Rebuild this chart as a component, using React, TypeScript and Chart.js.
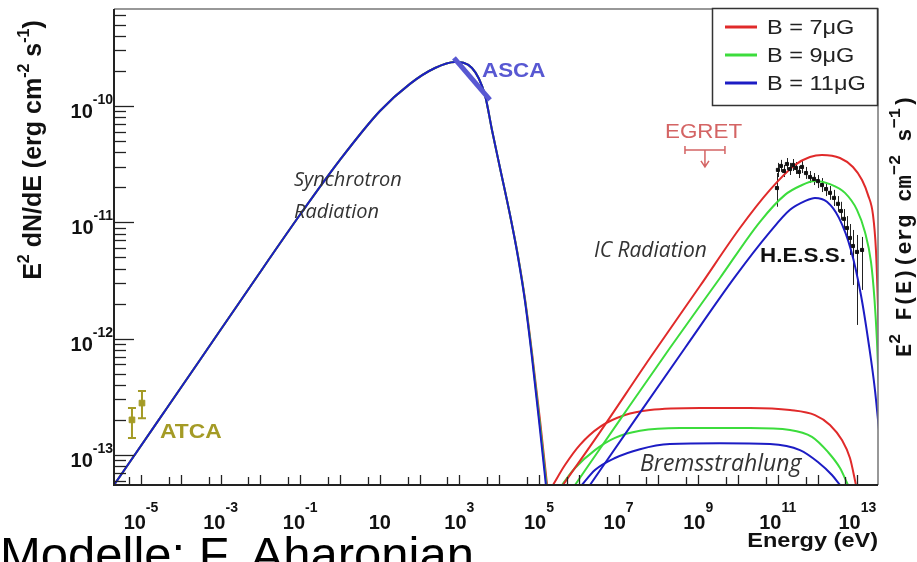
import React, { useEffect, useRef } from "react";
import { Chart, registerables } from "chart.js";

Chart.register(...registerables);

const W = 917;
const H = 562;

// axis range
const X_MIN = 2.1e-6;
const X_MAX = 3.3e13;
const Y_MIN = 5.51e-14;
const Y_MAX = 6.82e-10;

// tick labels (10^exp)
const xTickExps = [-5, -3, -1, 1, 3, 5, 7, 9, 11, 13];
const xTickSup = ["-5", "-3", "-1", "", "3", "5", "7", "9", "11", "13"];
const yTickExps = [-10, -11, -12, -13];
const yTickSup = ["-10", "-11", "-12", "-13"];

const legendLabels = ["B = 7\u03bcG", "B = 9\u03bcG", "B = 11\u03bcG"];

// synchrotron
const synchE = [2.1e-6, 3.0e-5, 3.03e-4, 5.48e-3, 0.0989, 1, 10.1, 57.4, 244, 774, 2075, 4395, 6590, 1.05e4, 1.87e4, 2.96e4, 4.45e4, 6.67e4, 1.06e5, 1.59e5];
const synchF7 = [5.51e-14, 2.07e-13, 6.55e-13, 2.78e-12, 1.16e-11, 3.44e-11, 9.06e-11, 1.55e-10, 2.12e-10, 2.39e-10, 2.12e-10, 1.24e-10, 6.22e-11, 2.93e-11, 1.16e-11, 5.2e-12, 2.2e-12, 7.6e-13, 2.0e-13, 5.6e-14];
const synchF9 = [5.51e-14, 2.07e-13, 6.55e-13, 2.78e-12, 1.16e-11, 3.44e-11, 9.06e-11, 1.55e-10, 2.12e-10, 2.39e-10, 2.12e-10, 1.24e-10, 6.22e-11, 2.93e-11, 1.16e-11, 5.13e-12, 2.15e-12, 7.23e-13, 1.81e-13, 4.99e-14];
const synchF11 = [5.51e-14, 2.07e-13, 6.55e-13, 2.78e-12, 1.16e-11, 3.44e-11, 9.06e-11, 1.55e-10, 2.12e-10, 2.39e-10, 2.12e-10, 1.24e-10, 6.22e-11, 2.93e-11, 1.16e-11, 5.05e-12, 2.1e-12, 6.9e-13, 1.65e-13, 4.5e-14];

// inverse Compton
const icE7 = [4.01e5, 3.41e6, 6.15e7, 1.11e9, 1.12e10, 6.37e10, 2.7e11, 6.44e11, 1.29e12, 3.66e12, 7.74e12, 1.31e13, 1.85e13, 2.47e13, 2.93e13, 3.2e13, 3.49e13];
const icF7 = [5.51e-14, 1.57e-13, 6.81e-13, 2.83e-12, 8.93e-12, 1.9e-11, 3.11e-11, 3.64e-11, 3.79e-11, 3.57e-11, 2.99e-11, 2.31e-11, 1.72e-11, 1.16e-11, 5.78e-12, 2.62e-12, 9.72e-13];
const icE9 = [8.04e5, 1.08e7, 1.95e8, 3.53e9, 3.57e10, 1.52e11, 3.61e11, 8.61e11, 2.05e12, 4.88e12, 9.77e12, 1.55e13, 2.2e13, 2.7e13, 3.1e13, 3.49e13];
const icF9 = [5.51e-14, 2.0e-13, 8.3e-13, 3.32e-12, 1.01e-11, 1.72e-11, 2.05e-11, 2.26e-11, 2.13e-11, 1.79e-11, 1.28e-11, 8.26e-12, 4.56e-12, 2.15e-12, 9.72e-13, 3.61e-13];
const icE11 = [1.91e6, 2.58e7, 4.66e8, 8.41e9, 6.37e10, 2.03e11, 4.82e11, 8.61e11, 1.72e12, 3.45e12, 6.9e12, 1.23e13, 1.95e13, 2.77e13, 3.49e13];
const icF11 = [5.51e-14, 2.0e-13, 8.3e-13, 3.39e-12, 8.26e-12, 1.28e-11, 1.52e-11, 1.62e-11, 1.5e-11, 1.09e-11, 5.78e-12, 2.37e-12, 8.81e-13, 3.61e-13, 1.64e-13];

// bremsstrahlung
const brE7 = [2.25e5, 4.5e5, 1.07e6, 3.41e6, 1.45e7, 6.15e7, 1.11e9, 2.0e10, 2.03e11, 8.61e11, 2.05e12, 4.1e12, 6.52e12, 9.23e12];
const brF7 = [5.51e-14, 8.18e-14, 1.22e-13, 1.74e-13, 2.2e-13, 2.43e-13, 2.53e-13, 2.53e-13, 2.43e-13, 2.2e-13, 1.81e-13, 1.34e-13, 9.4e-14, 5.51e-14];
const brE9 = [3.78e5, 8.04e5, 2.55e6, 8.13e6, 3.45e7, 3.49e8, 2.0e10, 2.03e11, 7.23e11, 1.82e12, 3.66e12, 5.81e12];
const brF9 = [5.51e-14, 7.71e-14, 1.1e-13, 1.4e-13, 1.61e-13, 1.7e-13, 1.7e-13, 1.64e-13, 1.43e-13, 1.06e-13, 7.71e-14, 5.51e-14];
const brE11 = [1.2e6, 2.55e6, 8.13e6, 3.45e7, 1.95e8, 3.53e9, 6.37e10, 3.61e11, 1.02e12, 2.3e12, 3.66e12];
const brF11 = [5.51e-14, 7.41e-14, 9.4e-14, 1.12e-13, 1.24e-13, 1.26e-13, 1.24e-13, 1.1e-13, 8.69e-14, 6.71e-14, 5.51e-14];

// H.E.S.S. data
const hessE = [9.55e10, 1.01e11, 1.2e11, 1.43e11, 1.7e11, 2.03e11, 2.41e11, 2.86e11, 3.41e11, 4.06e11, 5.12e11, 6.44e11, 8.13e11, 1.02e12, 1.29e12, 1.63e12, 2.05e12, 2.58e12, 3.26e12, 3.87e12, 4.6e12, 5.48e12, 6.52e12, 7.74e12, 9.77e12, 1.31e13];
const hessF = [1.97e-11, 2.82e-11, 3.05e-11, 2.76e-11, 3.17e-11, 2.87e-11, 3.11e-11, 2.93e-11, 2.71e-11, 2.99e-11, 2.65e-11, 2.45e-11, 2.36e-11, 2.26e-11, 2.09e-11, 1.93e-11, 1.79e-11, 1.62e-11, 1.44e-11, 1.25e-11, 1.07e-11, 8.93e-12, 7.33e-12, 6.25e-12, 5.56e-12, 5.78e-12];
const hessLo = [1.36e-11, 2.45e-11, 2.71e-11, 2.45e-11, 2.82e-11, 2.55e-11, 2.76e-11, 2.6e-11, 2.4e-11, 2.65e-11, 2.36e-11, 2.18e-11, 2.09e-11, 1.97e-11, 1.82e-11, 1.68e-11, 1.56e-11, 1.38e-11, 1.23e-11, 1.05e-11, 8.75e-12, 7.05e-12, 5.24e-12, 2.89e-12, 1.31e-12, 2.62e-12];
const hessHi = [2.65e-11, 3.24e-11, 3.44e-11, 3.11e-11, 3.57e-11, 3.24e-11, 3.5e-11, 3.3e-11, 3.05e-11, 3.36e-11, 2.99e-11, 2.76e-11, 2.65e-11, 2.55e-11, 2.4e-11, 2.22e-11, 2.05e-11, 1.9e-11, 1.68e-11, 1.5e-11, 1.3e-11, 1.13e-11, 9.66e-12, 8.59e-12, 7.78e-12, 7.48e-12];

// ATCA
const atcaE = [5.94e-6, 1.06e-5];
const atcaF = [2.0e-13, 2.79e-13];
const atcaLo = [1.4e-13, 2.07e-13];
const atcaHi = [2.53e-13, 3.54e-13];

// ASCA bow
const ascaE = [731, 5875];
const ascaF = [2.59e-10, 1.13e-10];

// EGRET upper limit
const egretE = [4.66e8, 1.48e9, 4.71e9];
const egretF = 4.19e-11;
const egretTip = 2.99e-11;

const RED = "#e02a2a";
const GREEN = "#3cdc3c";
const BLUE = "#1c1cc4";
const ASCA_C = "#5858d2";
const ATCA_C = "#a49b26";
const EGRET_C = "#d46464";

const SANS = '"Liberation Sans", Arial, sans-serif';
const ITAL = '"Open Sans", sans-serif';

type Part = { t: string; sup?: boolean };

function rich(
  ctx: CanvasRenderingContext2D,
  parts: Part[],
  x: number,
  y: number,
  o: { size: number; supSize?: number; rise?: number; weight?: string; family?: string; align?: string; sx?: number; rot?: number; color?: string; style?: string; baseline?: CanvasTextBaseline }
) {
  const size = o.size;
  const supSize = o.supSize ?? size * 0.7;
  const rise = o.rise ?? size * 0.55;
  const fam = o.family ?? SANS;
  const wt = o.weight ?? "normal";
  const st = o.style ?? "normal";
  const fb = `${st} ${wt} ${size}px ${fam}`;
  const fs = `${st} ${wt} ${supSize}px ${fam}`;
  ctx.save();
  ctx.fillStyle = o.color ?? "#000";
  ctx.textAlign = "left";
  ctx.textBaseline = o.baseline ?? "alphabetic";
  const ws: number[] = [];
  let total = 0;
  for (const p of parts) {
    ctx.font = p.sup ? fs : fb;
    const w = ctx.measureText(p.t).width;
    ws.push(w);
    total += w;
  }
  ctx.translate(x, y);
  if (o.rot) ctx.rotate(o.rot);
  ctx.scale(o.sx ?? 1, 1);
  let cx = o.align === "center" ? -total / 2 : o.align === "right" ? -total : 0;
  parts.forEach((p, i) => {
    ctx.font = p.sup ? fs : fb;
    ctx.fillText(p.t, cx, p.sup ? -rise : 0);
    cx += ws[i];
  });
  ctx.restore();
}

function pts(xs: number[], ys: number[]) {
  return xs.map((x, i) => ({ x, y: ys[i] }));
}

const decor = {
  id: "decor",
  beforeDatasetsDraw(chart: any) {
    const ctx: CanvasRenderingContext2D = chart.ctx;
    const xs = chart.scales.x;
    const ys = chart.scales.y;
    ctx.save();
    // HESS error bars
    ctx.strokeStyle = "#222";
    ctx.lineWidth = 1;
    hessE.forEach((e, i) => {
      const px = Math.round(xs.getPixelForValue(e)) + 0.5;
      ctx.beginPath();
      ctx.moveTo(px, ys.getPixelForValue(hessLo[i]));
      ctx.lineTo(px, ys.getPixelForValue(hessHi[i]));
      ctx.stroke();
    });
    // ATCA error bars
    ctx.strokeStyle = ATCA_C;
    ctx.lineWidth = 2;
    atcaE.forEach((e, i) => {
      const px = xs.getPixelForValue(e);
      const lo = ys.getPixelForValue(atcaLo[i]);
      const hi = ys.getPixelForValue(atcaHi[i]);
      ctx.beginPath();
      ctx.moveTo(px, lo);
      ctx.lineTo(px, hi);
      ctx.moveTo(px - 4, lo);
      ctx.lineTo(px + 4, lo);
      ctx.moveTo(px - 4, hi);
      ctx.lineTo(px + 4, hi);
      ctx.stroke();
    });
    // EGRET upper limit
    ctx.strokeStyle = EGRET_C;
    ctx.fillStyle = EGRET_C;
    ctx.lineWidth = 1.5;
    const ex0 = xs.getPixelForValue(egretE[0]);
    const ex1 = xs.getPixelForValue(egretE[1]);
    const ex2 = xs.getPixelForValue(egretE[2]);
    const ey = ys.getPixelForValue(egretF);
    const et = ys.getPixelForValue(egretTip);
    ctx.beginPath();
    ctx.moveTo(ex0, ey);
    ctx.lineTo(ex2, ey);
    ctx.moveTo(ex0, ey - 4);
    ctx.lineTo(ex0, ey + 4);
    ctx.moveTo(ex2, ey - 4);
    ctx.lineTo(ex2, ey + 4);
    ctx.moveTo(ex1, ey);
    ctx.lineTo(ex1, et);
    ctx.moveTo(ex1 - 4, et - 6);
    ctx.lineTo(ex1, et);
    ctx.lineTo(ex1 + 4, et - 6);
    ctx.stroke();
    ctx.restore();
  },
  afterDraw(chart: any) {
    const ctx: CanvasRenderingContext2D = chart.ctx;
    const xs = chart.scales.x;
    const ys = chart.scales.y;
    const a = chart.chartArea;
    ctx.save();
    // frame
    ctx.lineWidth = 1.5;
    ctx.strokeStyle = "#777";
    ctx.beginPath();
    ctx.moveTo(a.left, a.top);
    ctx.lineTo(a.right, a.top);
    ctx.lineTo(a.right, a.bottom);
    ctx.stroke();
    ctx.strokeStyle = "#222";
    ctx.lineWidth = 2;
    ctx.beginPath();
    ctx.moveTo(a.left, a.top);
    ctx.lineTo(a.left, a.bottom);
    ctx.lineTo(a.right, a.bottom);
    ctx.stroke();

    // x ticks (inside)
    ctx.lineWidth = 1.3;
    ctx.strokeStyle = "#222";
    for (let k = -6; k <= 13; k++) {
      for (const m of [1, 5]) {
        const v = m * Math.pow(10, k);
        if (v < X_MIN || v > X_MAX) continue;
        const px = Math.round(xs.getPixelForValue(v)) + 0.5;
        const len = m === 1 ? 10 : 8;
        ctx.beginPath();
        ctx.moveTo(px, a.bottom);
        ctx.lineTo(px, a.bottom - len);
        ctx.stroke();
      }
    }
    // y ticks (inside)
    for (let k = -14; k <= -10; k++) {
      for (let m = 1; m <= 9; m++) {
        const v = m * Math.pow(10, k);
        if (v < Y_MIN || v > Y_MAX) continue;
        const py = Math.round(ys.getPixelForValue(v)) + 0.5;
        const len = m === 1 ? 20 : 12;
        ctx.beginPath();
        ctx.moveTo(a.left, py);
        ctx.lineTo(a.left + len, py);
        ctx.stroke();
      }
    }

    // x tick labels
    xTickExps.forEach((e, i) => {
      const px = xs.getPixelForValue(Math.pow(10, e));
      const parts: Part[] = [{ t: "10" }];
      if (xTickSup[i]) parts.push({ t: xTickSup[i], sup: true });
      rich(ctx, parts, px, 529, { size: 20, supSize: 14, rise: 17, weight: "bold", align: "center", color: "#111" });
    });
    // y tick labels
    yTickExps.forEach((e, i) => {
      const py = ys.getPixelForValue(Math.pow(10, e));
      rich(ctx, [{ t: "10" }, { t: yTickSup[i], sup: true }], 113, py + 12, { size: 20, supSize: 14, rise: 14, weight: "bold", align: "right", color: "#111" });
    });

    // axis titles
    rich(
      ctx,
      [{ t: "E" }, { t: "2", sup: true }, { t: " dN/dE (erg cm" }, { t: "-2", sup: true }, { t: " s" }, { t: "-1", sup: true }, { t: ")" }],
      41, 150,
      { size: 25, supSize: 16, rise: 12, weight: "bold", align: "center", rot: -Math.PI / 2, color: "#111" }
    );
    rich(
      ctx,
      [{ t: "E" }, { t: "2", sup: true }, { t: " F(E)(erg cm" }, { t: "\u22122", sup: true }, { t: " s" }, { t: "\u22121", sup: true }, { t: ")" }],
      911, 226,
      { size: 22, supSize: 17, rise: 11, weight: "bold", family: '"Liberation Mono", monospace', align: "center", rot: -Math.PI / 2, color: "#111" }
    );
    rich(ctx, [{ t: "Energy (eV)" }], 878, 547, { size: 21, weight: "bold", align: "right", sx: 1.12, color: "#111" });

    // annotations
    rich(ctx, [{ t: "Synchrotron" }], 294, 186, { size: 20, family: ITAL, style: "italic", color: "#333" });
    rich(ctx, [{ t: "Radiation" }], 294, 218, { size: 20, family: ITAL, style: "italic", color: "#333" });
    rich(ctx, [{ t: "IC Radiation" }], 594, 257, { size: 21, family: ITAL, style: "italic", color: "#333" });
    rich(ctx, [{ t: "Bremsstrahlung" }], 640, 471, { size: 23, family: ITAL, style: "italic", color: "#333" });
    rich(ctx, [{ t: "H.E.S.S." }], 760, 262, { size: 20, weight: "bold", sx: 1.12, color: "#111" });
    rich(ctx, [{ t: "ASCA" }], 482, 77, { size: 20, weight: "bold", sx: 1.12, color: ASCA_C });
    rich(ctx, [{ t: "EGRET" }], 665, 138, { size: 20, sx: 1.12, color: EGRET_C });
    rich(ctx, [{ t: "ATCA" }], 160, 438, { size: 20, weight: "bold", sx: 1.14, color: ATCA_C });

    // legend
    ctx.fillStyle = "#fff";
    ctx.fillRect(712, 8, 166, 98);
    ctx.strokeStyle = "#333";
    ctx.lineWidth = 1.5;
    ctx.strokeRect(712.5, 8.5, 165, 97);
    const cols = [RED, GREEN, BLUE];
    const ly = [27, 55, 83];
    legendLabels.forEach((t, i) => {
      ctx.strokeStyle = cols[i];
      ctx.lineWidth = 3;
      ctx.beginPath();
      ctx.moveTo(725, ly[i]);
      ctx.lineTo(757, ly[i]);
      ctx.stroke();
      rich(ctx, [{ t }], 767, ly[i] + 1, { size: 21, sx: 1.12, color: "#222", baseline: "middle" });
    });

    // credit
    rich(ctx, [{ t: "Modelle: F. Aharonian" }], 0, 571, { size: 49, color: "#000" });
    ctx.restore();
  },
};

export default function App() {
  const ref = useRef<HTMLCanvasElement>(null);
  useEffect(() => {
    const line = (label: string, data: any, color: string, order: number, w = 2) => ({
      type: "line" as const,
      label,
      data,
      borderColor: color,
      backgroundColor: color,
      borderWidth: w,
      pointRadius: 0,
      cubicInterpolationMode: "monotone" as const,
      fill: false,
      order,
    });
    const chart = new Chart(ref.current as HTMLCanvasElement, {
      type: "line",
      data: {
        datasets: [
          line("Synchrotron B=11", pts(synchE, synchF11), BLUE, 1),
          line("Synchrotron B=9", pts(synchE, synchF9), GREEN, 2),
          line("Synchrotron B=7", pts(synchE, synchF7), RED, 3),
          line("IC B=7", pts(icE7, icF7), RED, 4),
          line("IC B=9", pts(icE9, icF9), GREEN, 5),
          line("IC B=11", pts(icE11, icF11), BLUE, 6),
          line("Brems B=7", pts(brE7, brF7), RED, 7),
          line("Brems B=9", pts(brE9, brF9), GREEN, 8),
          line("Brems B=11", pts(brE11, brF11), BLUE, 9),
          {
            type: "line" as const,
            label: "ASCA",
            data: pts(ascaE, ascaF),
            borderColor: ASCA_C,
            borderWidth: 5,
            pointRadius: 0,
            order: 0,
          },
          {
            type: "scatter" as const,
            label: "H.E.S.S.",
            data: pts(hessE, hessF),
            backgroundColor: "#111",
            borderColor: "#111",
            pointStyle: "rect",
            pointRadius: 2.2,
            showLine: false,
            order: 0,
          },
          {
            type: "scatter" as const,
            label: "ATCA",
            data: pts(atcaE, atcaF),
            backgroundColor: ATCA_C,
            borderColor: ATCA_C,
            pointStyle: "rect",
            pointRadius: 4,
            showLine: false,
            order: 0,
          },
        ] as any,
      },
      options: {
        animation: false,
        responsive: false,
        devicePixelRatio: 1,
        events: [],
        layout: { padding: { left: 114, right: 39, top: 9, bottom: 77 } },
        plugins: { legend: { display: false }, tooltip: { enabled: false } },
        scales: {
          x: { type: "logarithmic", min: X_MIN, max: X_MAX, display: false },
          y: { type: "logarithmic", min: Y_MIN, max: Y_MAX, display: false },
        },
      },
      plugins: [decor],
    });
    return () => chart.destroy();
  }, []);
  return (
    <div style={{ position: "absolute", left: 0, top: 0, width: W, height: H, background: "#fff" }}>
      <canvas ref={ref} width={W} height={H} style={{ display: "block", width: W, height: H }} />
    </div>
  );
}
